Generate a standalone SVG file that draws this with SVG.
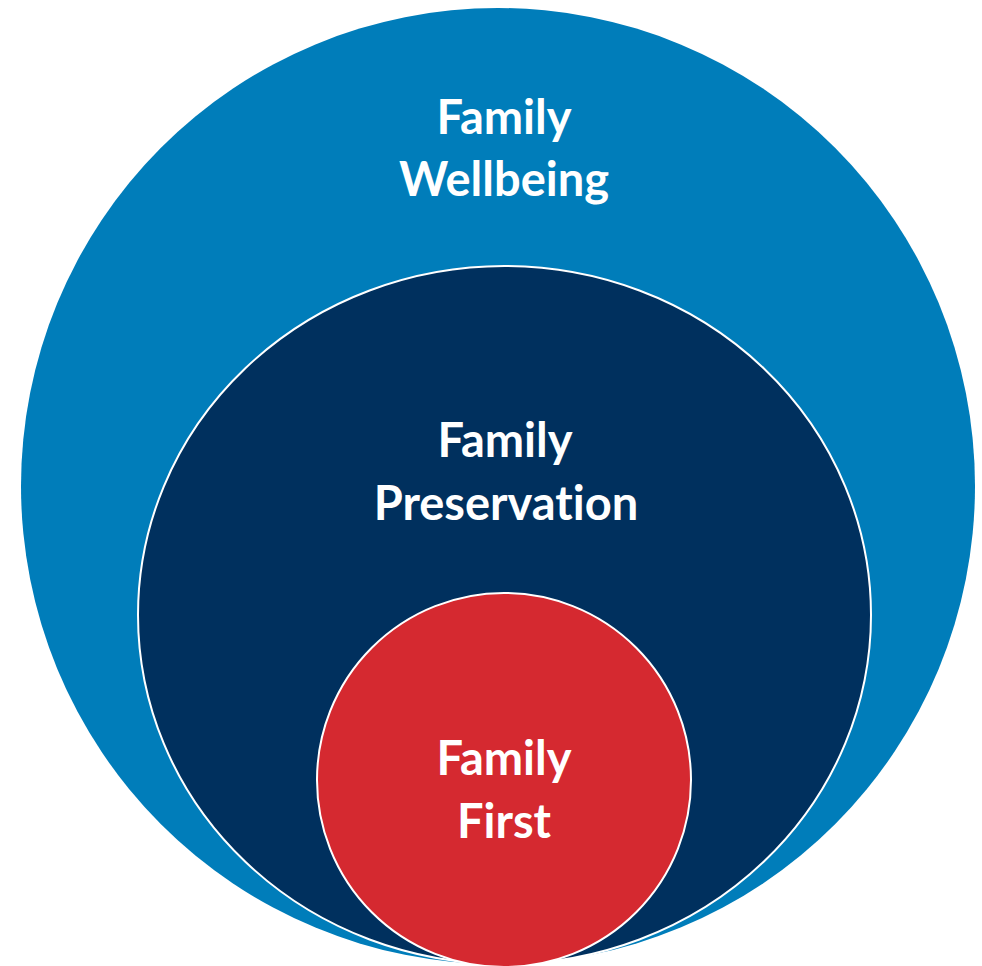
<svg xmlns="http://www.w3.org/2000/svg" width="982" height="966" viewBox="0 0 982 966">
<style>
.lbl{font-family:Lato,"Open Sans","Liberation Sans",sans-serif;font-weight:bold;font-size:47px;fill:#ffffff;text-anchor:middle;font-variant-ligatures:none;font-feature-settings:"liga" 0}
</style>
<rect width="982" height="966" fill="#ffffff"/>
<g id="family-wellbeing">
<ellipse cx="498" cy="486" rx="477" ry="478" fill="#007DBA"/>
<text class="lbl" x="504" y="134">Family</text>
<text class="lbl" x="504" y="196">Wellbeing</text>
</g>
<g id="family-preservation">
<ellipse cx="504.5" cy="615" rx="366.5" ry="349" fill="#00305E" stroke="#ffffff" stroke-width="2"/>
<text class="lbl" x="505" y="457">Family</text>
<text class="lbl" x="506" y="520">Preservation</text>
</g>
<g id="family-first">
<circle cx="504" cy="780" r="187" fill="#D52930" stroke="#ffffff" stroke-width="2"/>
<text class="lbl" x="504" y="775">Family</text>
<text class="lbl" x="504" y="838">First</text>
</g>
<g id="connectors"/>
</svg>
